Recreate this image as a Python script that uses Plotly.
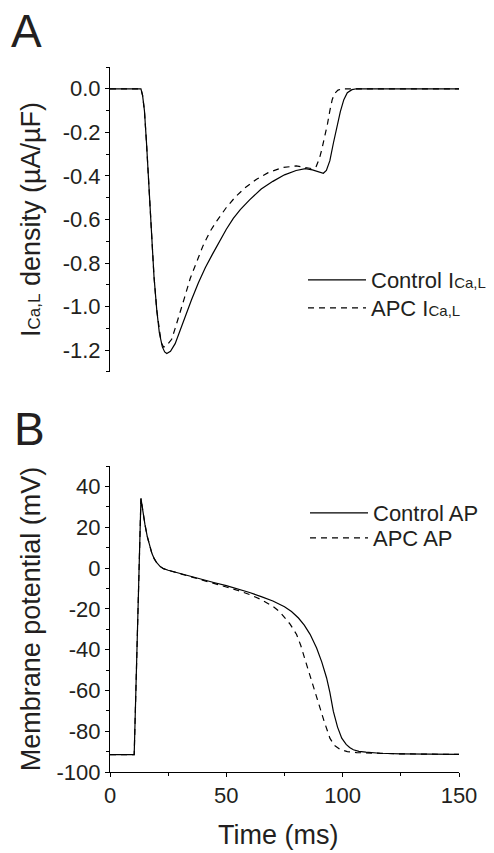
import plotly.graph_objects as go

# ---------------- data ----------------
# Panel A: L-type Ca current density (uA/uF)
t_ica_control = [0, 13.3, 14.0, 14.8, 15.7, 16.5, 17.2, 17.9, 18.9, 20.1, 21.2, 22.5, 23.5, 24.4,
                 26, 28, 30, 32, 35, 38, 41, 44, 47, 50, 53, 56, 60, 65, 70, 75, 80, 84, 87,
                 90, 91.7, 93, 94.5, 96, 97.5, 99, 100.5, 102, 104, 106, 150]
ica_control = [0, 0, -0.03, -0.1, -0.25, -0.4, -0.556, -0.71, -0.86, -1.016, -1.12, -1.185, -1.208, -1.215,
               -1.205, -1.17, -1.11, -1.05, -0.97, -0.89, -0.82, -0.76, -0.70, -0.645, -0.595, -0.555, -0.51,
               -0.46, -0.425, -0.395, -0.375, -0.367, -0.372,
               -0.383, -0.388, -0.375, -0.33, -0.25, -0.175, -0.105, -0.05, -0.018, -0.004, 0, 0]

t_ica_apc = [0, 13.3, 14.0, 14.8, 15.7, 16.5, 17.2, 17.9, 18.9, 20.1, 21.2, 22, 23, 24, 25, 26.5,
             28, 30, 32, 34.5, 37, 40, 43, 46, 50, 54, 58, 63, 68, 74, 80, 84, 86.5, 88.5,
             90, 91, 92.4, 93.5, 94.5, 95.5, 96.5, 98, 100, 150]
ica_apc = [0, 0, -0.03, -0.1, -0.25, -0.4, -0.556, -0.71, -0.86, -1.016, -1.12, -1.165, -1.185, -1.182,
           -1.17, -1.15, -1.1, -1.035, -0.96, -0.87, -0.8, -0.72, -0.655, -0.605, -0.545, -0.495, -0.455,
           -0.415, -0.385, -0.362, -0.354, -0.36, -0.366, -0.36,
           -0.32, -0.28, -0.22, -0.16, -0.1, -0.05, -0.022, -0.006, 0, 0]

# Panel B: membrane potential (mV)
t_ap_control = [0, 10.4, 13.3, 14, 15, 16, 17, 18, 19, 20, 21.5, 23, 25, 27.2, 30, 35, 40, 45,
                50, 55, 60, 65, 70, 75, 78, 81, 83.5, 86, 88.8, 91, 93.1, 94.5, 96, 97.8, 99.6, 101.5,
                103, 104.6, 107, 110, 116, 125, 150]
ap_control = [-91.5, -91.5, 34.1, 28, 21.5, 15.5, 10.8, 7.2, 4.6, 2.7, 0.8, -0.3, -1.1, -1.8, -2.6, -4.2, -5.7, -7.2,
              -8.6, -10.2, -12, -14, -16.2, -19, -21.3, -24.5, -28, -32.5, -39.2, -46, -53.9, -61, -70.3, -78, -83.4,
              -86.5, -88, -89.1, -89.9, -90.3, -90.8, -91.1, -91.4]

t_ap_apc = [0, 10.4, 13.3, 14, 15, 16, 17, 18, 19, 20, 21.5, 23, 25, 27.2, 30, 35, 40, 45,
            50, 55, 60, 65, 70, 73, 75.2, 77.4, 80.2, 82, 84, 86, 88, 90, 92, 94.5, 96.5, 99,
            102, 106, 115, 125, 150]
ap_apc = [-91.5, -91.5, 34.1, 28, 21.5, 15.5, 10.8, 7.2, 4.6, 2.7, 0.8, -0.3, -1.1, -1.8, -2.6, -4.2, -5.9, -7.6,
          -9.3, -11, -13, -15.5, -18.8, -21.5, -24.5, -27.5, -32.6, -38, -45.5, -53, -61, -68, -75, -83.4, -87, -89,
          -90, -90.5, -90.9, -91.1, -91.4]

ica_ticks = [0.0, -0.2, -0.4, -0.6, -0.8, -1.0, -1.2]
ica_ticktext = ["0.0", "-0.2", "-0.4", "-0.6", "-0.8", "-1.0", "-1.2"]
ap_ticks = [40, 20, 0, -20, -40, -60, -80, -100]
ap_ticktext = ["40", "20", "0", "-20", "-40", "-60", "-80", "-100"]
time_ticks = [0, 50, 100, 150]

# ---------------- figure ----------------
FONT = "Liberation Sans, Arial, Helvetica, sans-serif"
INK = "#231f20"
SUB = '<span style="font-size:15px">Ca,L</span>'

fig = go.Figure()
fig.add_trace(go.Scatter(x=t_ica_control, y=ica_control, mode="lines",
                         line=dict(color="black", width=1.2),
                         name="Control I" + SUB, xaxis="x", yaxis="y", legend="legend"))
fig.add_trace(go.Scatter(x=t_ica_apc, y=ica_apc, mode="lines",
                         line=dict(color="black", width=1.2, dash="6px,5px"),
                         name="APC I" + SUB, xaxis="x", yaxis="y", legend="legend2"))
fig.add_trace(go.Scatter(x=t_ap_control, y=ap_control, mode="lines",
                         line=dict(color="black", width=1.2),
                         name="Control AP", xaxis="x2", yaxis="y2", legend="legend3"))
fig.add_trace(go.Scatter(x=t_ap_apc, y=ap_apc, mode="lines",
                         line=dict(color="black", width=1.2, dash="6px,5px"),
                         name="APC AP", xaxis="x2", yaxis="y2", legend="legend4"))

axis_common = dict(showgrid=False, zeroline=False, showline=True, linecolor="black", linewidth=1,
                   ticks="outside", ticklen=4, tickwidth=1, tickcolor="black",
                   tickfont=dict(family=FONT, size=22, color=INK))


def legend_at(xpix, ypix):
    return dict(x=(xpix - 110) / 349, y=(772 - ypix) / 705, xanchor="left", yanchor="middle",
                bgcolor="rgba(0,0,0,0)", borderwidth=0, itemwidth=58,
                font=dict(family=FONT, size=22, color=INK))


fig.update_layout(
    width=494, height=853,
    margin=dict(l=110, r=35, t=67, b=81, autoexpand=False),
    paper_bgcolor="white", plot_bgcolor="white",
    font=dict(family=FONT, color=INK),
    xaxis=dict(domain=[0, 1], range=[0, 150], visible=False, anchor="y"),
    yaxis=dict(domain=[0.5674, 1], range=[-1.3, 0.1], anchor="x",
               tickmode="array", tickvals=ica_ticks, ticktext=ica_ticktext,
               minor=dict(dtick=0.1, tick0=0, ticks="outside", ticklen=3, tickcolor="black"),
               title=dict(text="I" + '<span style="font-size:17px">Ca,L</span>' + " density (µA/µF)",
                          font=dict(family=FONT, size=27, color=INK), standoff=14),
               **axis_common),
    xaxis2=dict(domain=[0, 1], range=[0, 150], anchor="y2",
                tickmode="array", tickvals=time_ticks,
                minor=dict(dtick=25, tick0=0, ticks="outside", ticklen=3, tickcolor="black"),
                **axis_common),
    yaxis2=dict(domain=[0, 0.434], range=[-100, 50], anchor="x2",
                tickmode="array", tickvals=ap_ticks, ticktext=ap_ticktext,
                minor=dict(dtick=10, tick0=0, ticks="outside", ticklen=3, tickcolor="black"),
                title=dict(text="Membrane potential (mV)",
                           font=dict(family=FONT, size=27, color=INK), standoff=8),
                **axis_common),
    legend=legend_at(303, 280),
    legend2=legend_at(303, 308),
    legend3=legend_at(305, 513),
    legend4=legend_at(305, 538),
    showlegend=True,
    annotations=[
        dict(text="A", xref="paper", yref="paper", x=-0.289, y=1.0504, xanchor="left", yanchor="middle",
             showarrow=False, font=dict(family=FONT, size=46, color=INK)),
        dict(text="B", xref="paper", yref="paper", x=-0.2808, y=0.487, xanchor="left", yanchor="middle",
             showarrow=False, font=dict(family=FONT, size=46, color=INK)),
        dict(text="Time (ms)", xref="paper", yref="paper", x=(277.5 - 110) / 349, y=(772 - 835) / 705,
             xanchor="center", yanchor="middle", showarrow=False,
             font=dict(family=FONT, size=27, color=INK)),
    ],
)

fig.write_html("out.html", config={"displayModeBar": False},
               post_script="document.body.style.margin='0';")
